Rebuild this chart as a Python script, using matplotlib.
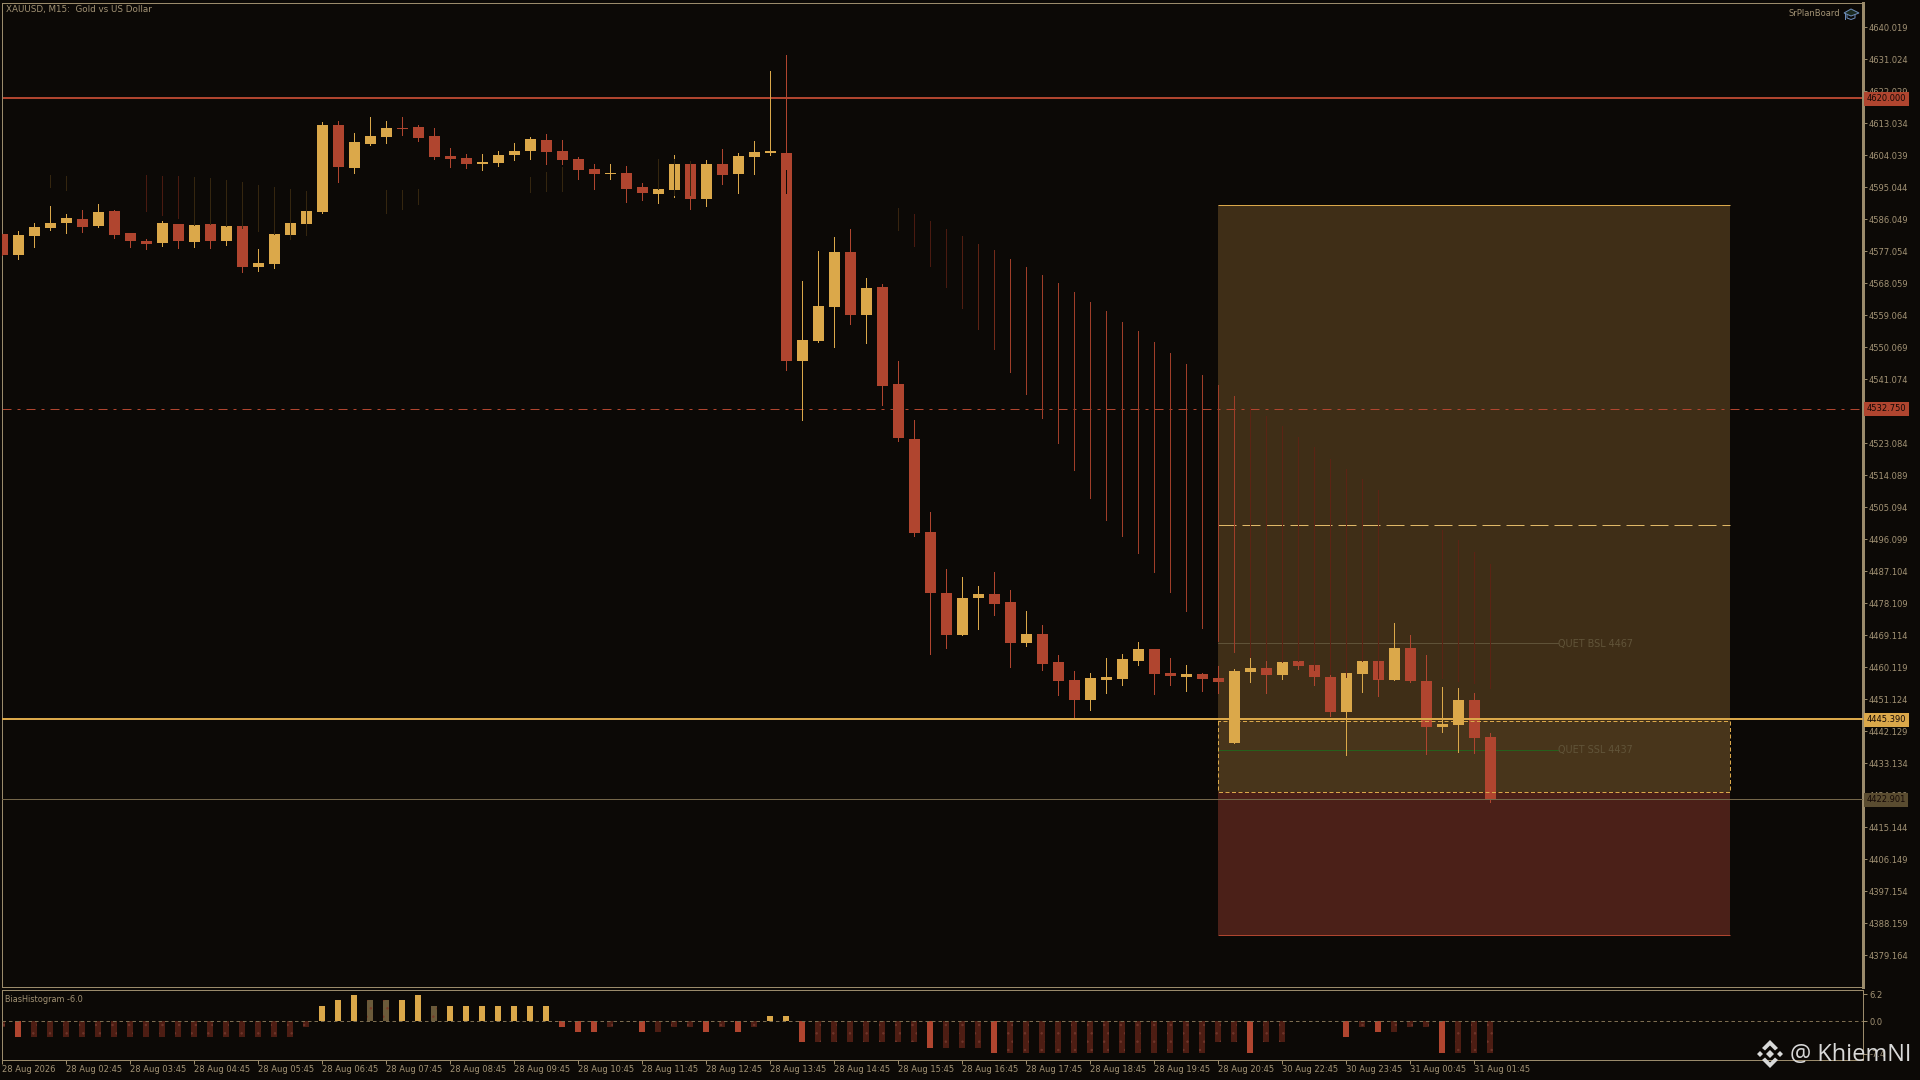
import matplotlib
matplotlib.use("Agg")
import matplotlib.pyplot as plt
from matplotlib.patches import Polygon
from matplotlib.transforms import Affine2D

# ohlc, one value per M15 bar
opens = [4581.9, 4576.0, 4581.4, 4583.6, 4585.0, 4586.1, 4584.2, 4588.4, 4582.2, 4580.0,
         4579.4, 4584.7, 4579.7, 4584.7, 4580.0, 4584.2, 4572.6, 4573.5, 4581.6, 4584.7,
         4588.1, 4612.6, 4600.5, 4607.2, 4609.2, 4611.7, 4612.0, 4609.5, 4603.8, 4603.3,
         4601.6, 4601.9, 4604.1, 4605.2, 4608.3, 4605.2, 4603.0, 4600.2, 4598.8, 4599.1,
         4595.1, 4593.2, 4594.3, 4601.6, 4591.8, 4601.6, 4598.8, 4603.6, 4604.7, 4604.7,
         4546.2, 4551.8, 4561.4, 4576.9, 4559.2, 4567.0, 4539.8, 4524.3, 4498.2, 4481.0,
         4469.2, 4479.6, 4480.7, 4478.5, 4467.0, 4469.5, 4461.6, 4456.6, 4450.9, 4456.6,
         4456.9, 4461.9, 4465.3, 4458.5, 4457.4, 4458.3, 4457.1, 4438.8, 4458.8, 4459.9,
         4457.9, 4461.9, 4460.7, 4457.4, 4447.5, 4458.2, 4461.9, 4456.5, 4465.5, 4456.2,
         4443.3, 4443.9, 4450.9, 4440.5]
highs = [4581.9, 4582.8, 4585.0, 4589.8, 4587.5, 4588.7, 4590.4, 4588.7, 4582.2, 4580.5,
         4585.6, 4584.7, 4585.3, 4584.7, 4584.2, 4584.2, 4577.7, 4581.9, 4585.0, 4588.4,
         4613.4, 4613.7, 4610.3, 4614.8, 4613.7, 4614.8, 4612.6, 4611.7, 4606.1, 4604.4,
         4604.4, 4605.2, 4607.5, 4609.2, 4610.0, 4608.3, 4603.6, 4601.6, 4601.6, 4601.0,
         4596.3, 4594.6, 4604.1, 4601.6, 4602.7, 4605.8, 4604.7, 4608.1, 4627.7, 4632.2,
         4568.7, 4577.2, 4581.1, 4583.3, 4569.6, 4567.8, 4546.2, 4529.6, 4503.8, 4487.8,
         4485.5, 4483.0, 4486.9, 4481.9, 4476.0, 4472.0, 4463.6, 4459.1, 4458.5, 4462.8,
         4463.9, 4467.3, 4465.3, 4462.8, 4460.8, 4458.5, 4460.5, 4459.6, 4463.0, 4462.1,
         4461.6, 4461.9, 4460.7, 4458.2, 4458.5, 4461.9, 4461.9, 4472.5, 4469.2, 4463.5,
         4454.5, 4454.3, 4452.9, 4441.6]
lows = [4576.0, 4574.9, 4578.3, 4583.0, 4582.2, 4582.5, 4583.9, 4580.8, 4578.3, 4577.7,
        4578.5, 4578.0, 4578.3, 4578.0, 4578.8, 4571.2, 4571.5, 4572.4, 4580.5, 4584.7,
        4587.8, 4596.5, 4599.1, 4606.9, 4607.5, 4609.8, 4608.1, 4603.0, 4600.8, 4600.5,
        4599.9, 4601.0, 4602.7, 4603.0, 4601.6, 4601.6, 4597.4, 4594.6, 4597.4, 4590.9,
        4591.5, 4590.6, 4592.3, 4589.0, 4589.8, 4596.0, 4593.4, 4598.8, 4604.1, 4543.7,
        4529.6, 4551.6, 4550.2, 4556.6, 4551.3, 4533.9, 4523.8, 4497.0, 4463.9, 4465.6,
        4469.2, 4470.9, 4474.8, 4460.2, 4466.1, 4459.4, 4452.4, 4445.9, 4448.1, 4452.9,
        4455.2, 4460.8, 4452.6, 4455.2, 4453.5, 4453.5, 4452.9, 4438.8, 4455.9, 4452.9,
        4456.8, 4459.6, 4455.1, 4446.4, 4435.4, 4453.1, 4452.0, 4456.5, 4455.9, 4435.7,
        4441.9, 4436.3, 4436.0, 4422.2]
closes = [4576.0, 4581.6, 4583.9, 4585.0, 4586.4, 4583.9, 4588.1, 4581.6, 4580.0, 4579.1,
          4585.0, 4580.0, 4584.5, 4580.0, 4584.2, 4572.6, 4573.8, 4581.9, 4585.0, 4588.4,
          4612.6, 4600.8, 4607.8, 4609.5, 4611.7, 4611.4, 4608.9, 4603.6, 4603.0, 4601.6,
          4602.2, 4604.1, 4605.2, 4608.6, 4605.0, 4602.7, 4599.9, 4598.8, 4599.1, 4594.6,
          4593.4, 4594.6, 4601.6, 4591.8, 4601.6, 4598.5, 4603.8, 4605.0, 4605.2, 4546.2,
          4552.1, 4561.7, 4576.9, 4559.2, 4566.7, 4539.2, 4524.6, 4497.9, 4481.0, 4469.2,
          4479.6, 4480.7, 4477.9, 4467.0, 4469.5, 4461.1, 4456.3, 4450.9, 4457.1, 4457.4,
          4462.5, 4465.3, 4458.3, 4457.7, 4458.3, 4456.9, 4456.0, 4459.0, 4459.9, 4457.9,
          4461.6, 4460.4, 4457.4, 4447.5, 4458.5, 4461.9, 4456.5, 4465.5, 4456.2, 4443.3,
          4444.1, 4450.9, 4440.2, 4422.8]

# faint vertical lines of the overlay indicator
ghost_bars = [3, 4, 9, 10, 11, 12, 13, 14, 15, 16, 17, 18, 19, 24, 25, 26, 33, 34, 35, 41, 42, 43, 49,
              56, 57, 58, 59, 60, 61, 62, 63, 64, 65, 66, 67, 68, 69, 70, 71, 72, 73, 74, 75, 76, 77,
              78, 79, 80, 81, 82, 83, 84, 85, 86, 90, 91, 92, 93]
ghost_top = [4598.5, 4598.2, 4598.5, 4598.2, 4598.2, 4597.9, 4597.7, 4597.1, 4596.5, 4595.7, 4595.1,
             4594.6, 4594.0, 4594.3, 4594.3, 4594.6, 4597.9, 4599.3, 4600.7, 4603.0, 4603.0, 4602.4, 4599.9,
             4589.2, 4587.5, 4585.6, 4583.3, 4581.4, 4579.1, 4577.4, 4574.9, 4572.6, 4570.4, 4568.1,
             4565.6, 4562.8, 4560.3, 4557.2, 4554.7, 4551.6, 4548.5, 4545.4, 4542.3, 4539.5, 4536.4,
             4533.4, 4530.8, 4528.0, 4524.9, 4522.1, 4518.8, 4515.9, 4513.1, 4510.0, 4498.7, 4495.9,
             4492.5, 4489.2]
ghost_bottom = [4595.1, 4594.3, 4588.4, 4587.3, 4586.4, 4584.5, 4584.7, 4584.2, 4583.6, 4582.8, 4581.9,
                4580.5, 4581.6, 4587.8, 4589.0, 4590.4, 4593.7, 4594.0, 4594.0, 4594.6, 4592.9, 4592.9, 4593.4,
                4583.0, 4578.5, 4572.9, 4567.0, 4561.1, 4555.2, 4549.6, 4543.1, 4537.0, 4530.2, 4523.2,
                4515.6, 4507.7, 4501.5, 4497.0, 4492.3, 4486.9, 4481.3, 4476.0, 4471.2, 4467.5, 4464.4,
                4463.0, 4462.2, 4461.6, 4461.9, 4459.4, 4458.2, 4457.4, 4461.9, 4457.1, 4457.1, 4456.3,
                4455.7, 4454.3]

bias = [-1.3, -3.6, -3.6, -3.6, -3.6, -3.6, -3.6, -3.6, -3.6, -3.6,
        -3.6, -3.6, -3.6, -3.6, -3.6, -3.6, -3.6, -3.6, -3.6, -1.3,
        3.5, 4.9, 6.0, 4.9, 4.9, 4.9, 6.0, 3.5, 3.5, 3.5,
        3.5, 3.5, 3.5, 3.5, 3.5, -1.3, -2.5, -2.5, -1.3, 0.15,
        -2.5, -2.5, -1.3, -1.3, -2.5, -1.3, -2.5, -1.3, 1.2, 1.2,
        -4.75, -4.75, -4.75, -4.75, -4.75, -4.75, -4.75, -4.75, -6.1, -6.1,
        -6.1, -6.1, -7.3, -7.3, -7.3, -7.3, -7.3, -7.3, -7.3, -7.3,
        -7.3, -7.3, -7.3, -7.3, -7.3, -7.3, -4.75, -4.75, -7.3, -4.75,
        -4.75, 0.1, 0.1, 0.1, -3.6, -1.3, -2.5, -2.5, -1.3, -1.3,
        -7.3, -7.3, -7.3, -7.3]
bias_strong = [1, 20, 21, 22, 25, 26, 28, 29, 30, 31, 32, 33, 34, 35, 36, 37, 39, 40, 44, 46, 48, 49,
               50, 58, 62, 78, 81, 82, 83, 84, 86, 90]

price_ticks = [4640.019, 4631.024, 4622.029, 4613.034, 4604.039, 4595.044, 4586.049, 4577.054,
               4568.059, 4559.064, 4550.069, 4541.074, 4532.079, 4523.084, 4514.089, 4505.094,
               4496.099, 4487.104, 4478.109, 4469.114, 4460.119, 4451.124, 4442.129, 4433.134,
               4424.139, 4415.144, 4406.149, 4397.154, 4388.159, 4379.164]
time_bars = [0, 4, 8, 12, 16, 20, 24, 28, 32, 36, 40, 44, 48, 52, 56, 60, 64, 68, 72, 76, 80, 84, 88, 92]
time_labels = ['28 Aug 2026', '28 Aug 02:45', '28 Aug 03:45', '28 Aug 04:45', '28 Aug 05:45', '28 Aug 06:45',
               '28 Aug 07:45', '28 Aug 08:45', '28 Aug 09:45', '28 Aug 10:45', '28 Aug 11:45', '28 Aug 12:45',
               '28 Aug 13:45', '28 Aug 14:45', '28 Aug 15:45', '28 Aug 16:45', '28 Aug 17:45', '28 Aug 18:45',
               '28 Aug 19:45', '28 Aug 20:45', '30 Aug 22:45', '30 Aug 23:45', '31 Aug 00:45', '31 Aug 01:45']

level_high = 4620.000
level_mid = 4532.750
level_gold = 4445.390
level_low = 4422.901
box_first, box_last = 76, 108
box_top, box_inner_top, box_inner_bottom, box_bottom = 4590, 4445, 4425, 4385
box_mid = 4500
bsl_price, ssl_price = 4467, 4437
quet_end = 97.2

BG = '#0c0906'
RED = '#b0452f'
GOLD = '#dba84a'
FRAME = '#9b8b6b'
TEXT = '#a39375'
FS = 6.0
PX = 0.72  # one pixel in points at dpi 100

plt.rcParams['font.family'] = ['DejaVu Sans']
plt.rcParams['lines.scale_dashes'] = False
plt.rcParams['hatch.linewidth'] = 0.5


def pixelAxes(fig, left, top, right, bottom):
    return fig.add_axes([left / 1920, 1 - bottom / 1080, (right - left) / 1920, (bottom - top) / 1080])


def ghostColor(i):
    if i == 49:
        return BG
    if i in (9, 10, 11, 57, 58, 59):
        return '#4a1a10'
    if i < 56:
        return '#35260f'
    if i == 56:
        return '#38240f'
    if i < 63:
        return {60: '#521e12', 61: '#5f2314', 62: '#742b1a'}[i]
    if i < 78:
        return '#a03e29'
    return '#5c2314'


def nudgeUp(line):
    # the platform rounds these levels one pixel higher than the agg snapping does
    line.set_transform(line.get_transform() + Affine2D().translate(0, 1))


fig = plt.figure(figsize=(19.2, 10.8), dpi=100, facecolor=BG)

# bar i sits at x = 2.33 + 16 * i pixels
ax_left = 1.6
x_lo = (ax_left - 2.33) / 16
x_hi = (1862.5 - 2.33) / 16
main_top, main_bottom = 2.5, 986.6

ax = pixelAxes(fig, ax_left, main_top, 1862.5, main_bottom)
ax.set_facecolor(BG)
ax.set_xlim(x_lo, x_hi)
ax.set_ylim(4647.69 - main_bottom * 0.2811, 4647.69 - main_top * 0.2811)

# trade box
box_from = (box_first - x_lo) / (x_hi - x_lo)
box_to = (box_last - x_lo) / (x_hi - x_lo)
ax.axhspan(box_inner_bottom, box_top, xmin=box_from, xmax=box_to, fc='#3f2e17', ec='none', zorder=1)
ax.axhspan(box_inner_bottom, box_inner_top, xmin=box_from, xmax=box_to, fc='#48351b', ec='none', zorder=1)
ax.axhspan(box_bottom, box_inner_bottom, xmin=box_from, xmax=box_to, fc='#4b2018', ec='none', zorder=1)
ax.plot([box_first, box_last], [box_top, box_top], color=GOLD, lw=PX, zorder=2, solid_capstyle='butt')
ax.plot([box_first, box_last], [box_bottom, box_bottom], color=RED, lw=PX, zorder=2, solid_capstyle='butt')
ax.plot([box_first, box_last], [box_mid, box_mid], color='#e0b868', lw=PX, zorder=2,
        dashes=(18 * PX, 6 * PX), dash_capstyle='butt')
ax.plot([box_first, box_first, box_last, box_last, box_first],
        [box_inner_top, box_inner_bottom, box_inner_bottom, box_inner_top, box_inner_top],
        color=GOLD, lw=PX, zorder=4, dashes=(4 * PX, 2.5 * PX), dash_capstyle='butt')
ax.plot([box_first, quet_end], [bsl_price, bsl_price], color='#5f5238', lw=PX, zorder=2)
ax.plot([box_first, quet_end], [ssl_price, ssl_price], color='#26601c', lw=PX, zorder=2)
ax.text(quet_end, bsl_price - 0.2, 'QUET BSL 4467', color='#615439', fontsize=FS + 0.9, va='center', ha='left', zorder=2)
ax.text(quet_end, ssl_price - 0.2, 'QUET SSL 4437', color='#615439', fontsize=FS + 0.9, va='center', ha='left', zorder=2)

# price levels
nudgeUp(ax.axhline(level_high, color=RED, lw=2 * PX, zorder=2))
ax.axhline(level_mid, color=RED, lw=PX, zorder=2, dashes=(9 * PX, 6 * PX, 3 * PX, 6 * PX), dash_capstyle='butt')
nudgeUp(ax.axhline(level_gold, color=GOLD, lw=2 * PX, zorder=4))
nudgeUp(ax.axhline(level_low, color='#75674a', lw=PX, zorder=4))

# candles
bars = range(len(opens))
colors = [GOLD if closes[i] >= opens[i] else RED for i in bars]
ax.vlines(bars, lows, highs, colors=colors, lw=PX, zorder=3, antialiased=False)
ax.bar(bars, [max(abs(closes[i] - opens[i]), 0.3) for i in bars],
       bottom=[min(opens[i], closes[i]) for i in bars],
       width=11 / 16, color=colors, lw=0, zorder=3, antialiased=False)

# overlay lines sit on top of the candles
ax.vlines(ghost_bars, ghost_bottom, ghost_top, colors=[ghostColor(i) for i in ghost_bars],
          lw=PX, zorder=3.5, antialiased=False)

ax.set_xticks([])
ax.yaxis.tick_right()
ax.set_yticks(price_ticks)
ax.set_yticklabels(['%.3f' % p for p in price_ticks])
ax.tick_params(axis='y', direction='out', length=3 * PX + 1, width=PX, color=FRAME, labelcolor=TEXT,
               labelsize=FS, pad=1)
for name in ['left', 'top', 'bottom']:
    ax.spines[name].set_color(FRAME)
    ax.spines[name].set_linewidth(PX)
ax.spines['right'].set_color(FRAME)
ax.spines['right'].set_linewidth(3 * PX)

# price tags on the axis
for price, face, txt in [(level_high, RED, '#140805'), (level_mid, RED, '#140805'),
                         (level_gold, GOLD, '#140805'), (level_low, '#5a4c30', '#140805')]:
    ax.annotate('%.3f' % price, xy=(1, price), xycoords=ax.get_yaxis_transform(), xytext=(4, 0),
                textcoords='offset pixels', color=txt, fontsize=FS, va='center', ha='left', annotation_clip=False,
                bbox=dict(boxstyle='square,pad=0.3', fc=face, ec='none'), zorder=6)

# bias histogram panel
sub = pixelAxes(fig, ax_left, 989.5, 1862.5, 1059.5)
sub.set_facecolor(BG)
sub.set_xlim(x_lo, x_hi)
sub.set_ylim(-(1059.5 - 1021.3) / 4.355, (1021.3 - 989.5) / 4.355)
for i in bars:
    strong = i in bias_strong
    if bias[i] >= 0:
        face, dots = (GOLD, None) if strong else ('#6b5a3a', '#7a3a28')
    else:
        face, dots = (RED, None) if strong else ('#4d1d13', '#70352a')
    sub.bar(i, bias[i], width=6 / 16, color=face, lw=0, zorder=2, antialiased=False,
            hatch='..' if dots else None, edgecolor=dots)
sub.axhline(0, color='#7d6d50', lw=PX, zorder=3, dashes=(3.5 * PX, 3 * PX), dash_capstyle='butt')

sub.set_xticks(time_bars)
sub.set_xticklabels(time_labels, ha='left')
sub.yaxis.tick_right()
sub.set_yticks([6.2, 0.0, -7.4])
sub.set_yticklabels(['6.2', '0.0', '-7.4'])
sub.tick_params(axis='y', direction='out', length=3 * PX + 1, width=PX, color=FRAME, labelcolor=TEXT,
                labelsize=FS, pad=2)
sub.tick_params(axis='x', direction='out', length=3 * PX + 1, width=PX, color=FRAME, labelcolor=TEXT,
                labelsize=FS, pad=0.6)
for name in sub.spines:
    sub.spines[name].set_color(FRAME)
    sub.spines[name].set_linewidth(PX)

# things pinned to the screen rather than to the data
over = fig.add_axes([0, 0, 1, 1], facecolor='none')
over.set_xlim(0, 1920)
over.set_ylim(1080, 0)
over.axis('off')
over.text(6, 9.5, 'XAUUSD, M15:  Gold vs US Dollar', color=TEXT, fontsize=FS + 0.3, va='center', ha='left')
over.text(5, 999, 'BiasHistogram -6.0', color=TEXT, fontsize=FS - 0.15, va='center', ha='left')
over.text(1840, 13.5, 'SrPlanBoard', color=TEXT, fontsize=FS, va='center', ha='right')

# cap icon
cap = '#6c8cb8'
over.add_patch(Polygon([(1844, 13), (1851, 9), (1859, 13), (1851, 16)], closed=True, fc='#1c2a20', ec=cap, lw=PX))
over.plot([1847, 1847, 1851, 1855, 1855], [15, 18, 19.5, 18, 15], color=cap, lw=PX)
over.plot([1845, 1845], [13, 19], color=cap, lw=PX)

# watermark
mark = '#d9d9d9'
cx, cy = 1770, 1054
over.add_patch(Polygon([(cx - 4, cy), (cx, cy - 4), (cx + 4, cy), (cx, cy + 4)], fc=mark, ec='none'))
over.add_patch(Polygon([(cx - 13, cy), (cx - 10, cy - 3), (cx - 7, cy), (cx - 10, cy + 3)], fc=mark, ec='none'))
over.add_patch(Polygon([(cx + 13, cy), (cx + 10, cy - 3), (cx + 7, cy), (cx + 10, cy + 3)], fc=mark, ec='none'))
over.add_patch(Polygon([(cx - 8, cy - 6), (cx, cy - 14), (cx + 8, cy - 6), (cx + 5, cy - 3.5), (cx, cy - 8.5), (cx - 5, cy - 3.5)],
                       fc=mark, ec='none'))
over.add_patch(Polygon([(cx - 8, cy + 6), (cx, cy + 14), (cx + 8, cy + 6), (cx + 5, cy + 3.5), (cx, cy + 8.5), (cx - 5, cy + 3.5)],
                       fc=mark, ec='none'))
over.text(1790, 1055, '@ KhiemNI', color=mark, fontsize=17, va='center', ha='left', family='Open Sans')

fig.savefig('out.png', dpi=100, facecolor=BG)
